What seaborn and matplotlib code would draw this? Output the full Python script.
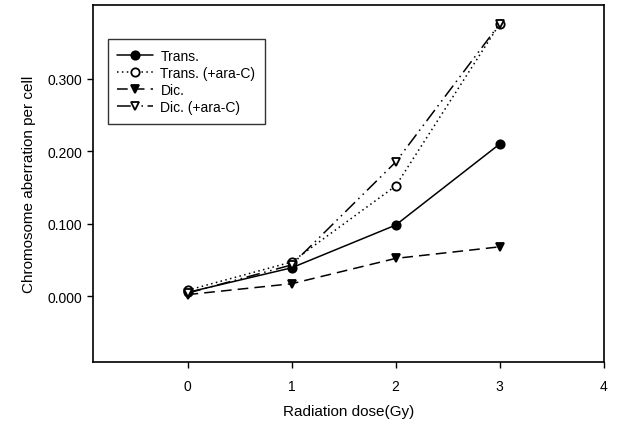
import numpy as np
import pandas as pd
import matplotlib.pyplot as plt
import matplotlib as mpl
import seaborn as sns

sns.set_style('ticks')
mpl.rcParams['font.family'] = ['Liberation Sans', 'DejaVu Sans']

dose = [0, 1, 2, 3]
trans = [0.005, 0.039, 0.098, 0.210]
trans_arac = [0.008, 0.047, 0.152, 0.376]
dic = [0.002, 0.017, 0.052, 0.068]
dic_arac = [0.004, 0.043, 0.185, 0.376]

labels = ['Trans.', 'Trans. (+ara-C)', 'Dic.', 'Dic. (+ara-C)']

fig = plt.figure(figsize=(6.27, 4.27), dpi=100)
ax = fig.add_axes([0.148, 0.150, 0.815, 0.836])

# line style / marker for each series
styles = [
    dict(linestyle='-', marker='o', markerfacecolor='black'),
    dict(linestyle=(0, (1, 2.2)), marker='o', markerfacecolor='white'),
    dict(linestyle=(0, (7, 4)), marker='v', markerfacecolor='black'),
    dict(linestyle=(0, (9, 3, 1, 3, 1, 3)), marker='v', markerfacecolor='white'),
]

for vals, lab, st in zip([trans, trans_arac, dic, dic_arac], labels, styles):
    sns.lineplot(x=dose, y=vals, ax=ax, color='black', linewidth=1.1,
                 markersize=6, markeredgecolor='black', markeredgewidth=1.3,
                 label=lab, **st)

ax.set_xlim(-0.91, 4)
ax.set_ylim(-0.091, 0.402)
ax.set_xticks([0, 1, 2, 3, 4])
ax.set_yticks([0.0, 0.1, 0.2, 0.3])
ax.set_yticklabels(['0.000', '0.100', '0.200', '0.300'])
ax.tick_params(labelsize=10, length=4, width=1, color='black', labelcolor='black')
ax.tick_params(axis='x', pad=8)

for s in ax.spines.values():
    s.set_visible(True)
    s.set_color('black')
    s.set_linewidth(1.2)

ax.set_xlabel('Radiation dose(Gy)', fontsize=11, labelpad=8, color='black')
ax.set_ylabel('Chromosome aberration per cell', fontsize=11, labelpad=8, color='black')

leg = ax.legend(loc='upper left', bbox_to_anchor=(0.029, 0.905), fontsize=10,
                frameon=True, fancybox=False, edgecolor='black',
                handlelength=2.6, handletextpad=0.5, labelspacing=0.22,
                borderpad=0.7, borderaxespad=0)
leg.get_frame().set_linewidth(1.0)
for t in leg.get_texts():
    t.set_color('black')

plt.savefig('out.png', dpi=100)
